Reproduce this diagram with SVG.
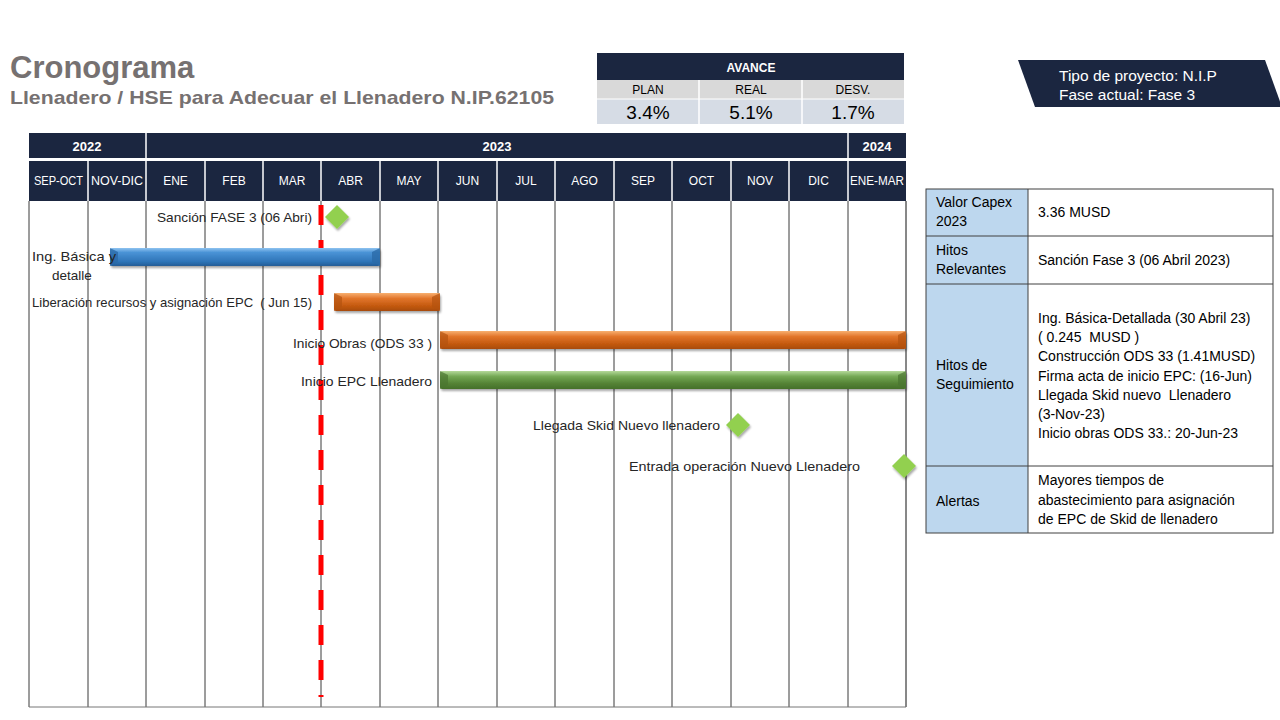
<svg xmlns="http://www.w3.org/2000/svg" width="1280" height="720" viewBox="0 0 1280 720">
  <style>
    .ttl { font-family: "Liberation Sans", Arial, sans-serif; font-weight: bold; fill: #767171; }
    .hdr { font-family: "Liberation Sans", Arial, sans-serif; fill: #ffffff; font-size: 12px; text-anchor: middle; }
    .yr { font-family: "Liberation Sans", Arial, sans-serif; fill: #ffffff; font-size: 13px; font-weight: bold; text-anchor: middle; }
    .lbl { font-family: "Liberation Sans", Arial, sans-serif; fill: #262626; font-size: 13.5px; }
    .cell { font-family: "Liberation Sans", Arial, sans-serif; fill: #000000; font-size: 14px; }
    .grid { stroke: #3a3a3a; stroke-width: 1; }
    .diamond { fill: #92D050; }
  </style>
  <defs>
    <linearGradient id="gBlue" x1="0" y1="0" x2="0" y2="1">
      <stop offset="0" stop-color="#8FC3F0"/>
      <stop offset="0.25" stop-color="#4A93D6"/>
      <stop offset="0.75" stop-color="#2E74B8"/>
      <stop offset="1" stop-color="#245D96"/>
    </linearGradient>
    <linearGradient id="gOrange" x1="0" y1="0" x2="0" y2="1">
      <stop offset="0" stop-color="#F8B070"/>
      <stop offset="0.3" stop-color="#E2762C"/>
      <stop offset="0.7" stop-color="#C55A11"/>
      <stop offset="1" stop-color="#A84B0E"/>
    </linearGradient>
    <linearGradient id="gGreen" x1="0" y1="0" x2="0" y2="1">
      <stop offset="0" stop-color="#B5D99A"/>
      <stop offset="0.3" stop-color="#74A855"/>
      <stop offset="0.7" stop-color="#548235"/>
      <stop offset="1" stop-color="#45702A"/>
    </linearGradient>
    <filter id="shadow" x="-30%" y="-30%" width="160%" height="160%">
      <feDropShadow dx="1" dy="2" stdDeviation="1.2" flood-color="#000" flood-opacity="0.35"/>
    </filter>
  </defs>

  <rect width="1280" height="720" fill="#ffffff"/>

  <!-- Title -->
  <g id="title">
    <text class="ttl" x="10" y="78" font-size="31">Cronograma</text>
    <text class="ttl" x="10" y="104" font-size="19" textLength="544" lengthAdjust="spacingAndGlyphs">Llenadero / HSE para Adecuar el Llenadero N.IP.62105</text>
  </g>

  <!-- Progress table -->
  <g id="avance">
    <rect x="597" y="53" width="307" height="27" fill="#1B2640"/>
    <text x="751" y="72" font-family="Liberation Sans, Arial, sans-serif" font-size="12" font-weight="bold" fill="#fff" text-anchor="middle">AVANCE</text>
    <rect x="597" y="80" width="307" height="19" fill="#D9D9D9"/>
    <rect x="597" y="99" width="307" height="25" fill="#D6DCE5"/>
    <line x1="699" y1="80" x2="699" y2="124" stroke="#fff" stroke-width="1.5"/>
    <line x1="802" y1="80" x2="802" y2="124" stroke="#fff" stroke-width="1.5"/>
    <line x1="597" y1="99" x2="904" y2="99" stroke="#fff" stroke-width="1"/>
    <g font-family="Liberation Sans, Arial, sans-serif" fill="#000" text-anchor="middle">
      <text x="648" y="94" font-size="12">PLAN</text>
      <text x="751" y="94" font-size="12">REAL</text>
      <text x="853" y="94" font-size="12">DESV.</text>
      <text x="648" y="119" font-size="19">3.4%</text>
      <text x="751" y="119" font-size="19">5.1%</text>
      <text x="853" y="119" font-size="19">1.7%</text>
    </g>
  </g>

  <!-- Project type banner -->
  <g id="tipo">
    <polygon points="1018,60 1265,60 1282,107 1035,107" fill="#1B2640"/>
    <text x="1059" y="81" font-family="Liberation Sans, Arial, sans-serif" font-size="15.5" fill="#fff">Tipo de proyecto: N.I.P</text>
    <text x="1059" y="100" font-family="Liberation Sans, Arial, sans-serif" font-size="15.5" fill="#fff">Fase actual: Fase 3</text>
  </g>

  <!-- Timeline header -->
  <g id="header">
    <rect x="29" y="133" width="877" height="25" fill="#1B2640"/>
    <rect x="29" y="161" width="877" height="40" fill="#1B2640"/>
    <g stroke="#ffffff" stroke-width="1.5">
      <line x1="146" y1="133" x2="146" y2="158"/>
      <line x1="848" y1="133" x2="848" y2="158"/>
      <line x1="88" y1="161" x2="88" y2="201"/>
      <line x1="146" y1="161" x2="146" y2="201"/>
      <line x1="205" y1="161" x2="205" y2="201"/>
      <line x1="263" y1="161" x2="263" y2="201"/>
      <line x1="321" y1="161" x2="321" y2="201"/>
      <line x1="380" y1="161" x2="380" y2="201"/>
      <line x1="438" y1="161" x2="438" y2="201"/>
      <line x1="497" y1="161" x2="497" y2="201"/>
      <line x1="555" y1="161" x2="555" y2="201"/>
      <line x1="614" y1="161" x2="614" y2="201"/>
      <line x1="672" y1="161" x2="672" y2="201"/>
      <line x1="731" y1="161" x2="731" y2="201"/>
      <line x1="789" y1="161" x2="789" y2="201"/>
      <line x1="848" y1="161" x2="848" y2="201"/>
    </g>
    <text class="yr" x="87" y="151">2022</text>
    <text class="yr" x="497" y="151">2023</text>
    <text class="yr" x="877" y="151">2024</text>
    <text class="hdr" x="58.5" y="185" textLength="49" lengthAdjust="spacingAndGlyphs">SEP-OCT</text>
    <text class="hdr" x="117" y="185" textLength="52" lengthAdjust="spacingAndGlyphs">NOV-DIC</text>
    <text class="hdr" x="175.5" y="185">ENE</text>
    <text class="hdr" x="234" y="185">FEB</text>
    <text class="hdr" x="292" y="185">MAR</text>
    <text class="hdr" x="350.5" y="185">ABR</text>
    <text class="hdr" x="409" y="185">MAY</text>
    <text class="hdr" x="467.5" y="185">JUN</text>
    <text class="hdr" x="526" y="185">JUL</text>
    <text class="hdr" x="584.5" y="185">AGO</text>
    <text class="hdr" x="643" y="185">SEP</text>
    <text class="hdr" x="701.5" y="185">OCT</text>
    <text class="hdr" x="760" y="185">NOV</text>
    <text class="hdr" x="818.5" y="185">DIC</text>
    <text class="hdr" x="877" y="185" textLength="54" lengthAdjust="spacingAndGlyphs">ENE-MAR</text>
  </g>

  <!-- Timeline body grid -->
  <g id="grid" class="grid">
    <line x1="29" y1="201" x2="29" y2="707"/>
    <line x1="88" y1="201" x2="88" y2="707"/>
    <line x1="146" y1="201" x2="146" y2="707"/>
    <line x1="205" y1="201" x2="205" y2="707"/>
    <line x1="263" y1="201" x2="263" y2="707"/>
    <line x1="321" y1="201" x2="321" y2="707"/>
    <line x1="380" y1="201" x2="380" y2="707"/>
    <line x1="438" y1="201" x2="438" y2="707"/>
    <line x1="497" y1="201" x2="497" y2="707"/>
    <line x1="555" y1="201" x2="555" y2="707"/>
    <line x1="614" y1="201" x2="614" y2="707"/>
    <line x1="672" y1="201" x2="672" y2="707"/>
    <line x1="731" y1="201" x2="731" y2="707"/>
    <line x1="789" y1="201" x2="789" y2="707"/>
    <line x1="848" y1="201" x2="848" y2="707"/>
    <line x1="906" y1="201" x2="906" y2="707" stroke="#111"/>
    <line x1="29" y1="707" x2="906" y2="707" stroke="#777"/>
  </g>

  <!-- Current date marker -->
  <g id="today">
    <line x1="321" y1="205" x2="321" y2="697" stroke="#FF0000" stroke-width="5" stroke-dasharray="20 15"/>
  </g>

  <!-- Task bars -->
  <g id="bar-ingenieria">
    <rect x="110" y="248" width="270" height="18" rx="2" fill="url(#gBlue)" filter="url(#shadow)"/>
    <polygon points="110,248 118,252 118,262 110,266" fill="#2A6AA8" opacity="0.8"/>
    <polygon points="380,248 372,252 372,262 380,266" fill="#2A6AA8" opacity="0.8"/>
    <text class="lbl" x="32" y="261" textLength="84" lengthAdjust="spacingAndGlyphs">Ing. Básica y</text>
    <text class="lbl" x="72" y="280" text-anchor="middle">detalle</text>
  </g>
  <g id="bar-liberacion">
    <rect x="334" y="293" width="106" height="18" rx="2" fill="url(#gOrange)" filter="url(#shadow)"/>
    <polygon points="334,293 342,297 342,307 334,311" fill="#B45210" opacity="0.7"/>
    <polygon points="440,293 432,297 432,307 440,311" fill="#B45210" opacity="0.7"/>
    <text class="lbl" x="32" y="307" textLength="280" lengthAdjust="spacingAndGlyphs" xml:space="preserve">Liberación recursos y asignación EPC  ( Jun 15)</text>
  </g>
  <g id="bar-obras">
    <rect x="440" y="331" width="466" height="18" rx="2" fill="url(#gOrange)" filter="url(#shadow)"/>
    <polygon points="440,331 448,335 448,345 440,349" fill="#B45210" opacity="0.7"/>
    <polygon points="906,331 898,335 898,345 906,349" fill="#B45210" opacity="0.7"/>
    <text class="lbl" x="293" y="348" textLength="139" lengthAdjust="spacingAndGlyphs">Inicio Obras (ODS 33 )</text>
  </g>
  <g id="bar-epc">
    <rect x="440" y="371" width="466" height="18" rx="2" fill="url(#gGreen)" filter="url(#shadow)"/>
    <polygon points="440,371 448,375 448,385 440,389" fill="#4A7530" opacity="0.7"/>
    <polygon points="906,371 898,375 898,385 906,389" fill="#4A7530" opacity="0.7"/>
    <text class="lbl" x="301" y="386" textLength="131" lengthAdjust="spacingAndGlyphs">Inicio EPC Llenadero</text>
  </g>

  <!-- Milestones -->
  <g id="hito-sancion">
    <text class="lbl" x="157" y="222" textLength="155" lengthAdjust="spacingAndGlyphs">Sanción FASE 3 (06 Abri)</text>
    <polygon class="diamond" points="337,205 349,217 337,229 325,217" filter="url(#shadow)"/>
  </g>
  <g id="hito-skid">
    <text class="lbl" x="533" y="430" textLength="187" lengthAdjust="spacingAndGlyphs">Llegada Skid Nuevo llenadero</text>
    <polygon class="diamond" points="738,413 750,425 738,437 726,425" filter="url(#shadow)"/>
  </g>
  <g id="hito-operacion">
    <text class="lbl" x="629" y="471" textLength="231" lengthAdjust="spacingAndGlyphs">Entrada operación Nuevo Llenadero</text>
    <polygon class="diamond" points="904,454 916,466 904,478 892,466" filter="url(#shadow)"/>
  </g>

  <!-- Summary table -->
  <g id="resumen">
    <rect x="926" y="189" width="102" height="344" fill="#BDD7EE"/>
    <g stroke="#404040" stroke-width="1" fill="none">
      <rect x="926" y="189" width="347" height="344"/>
      <line x1="1028" y1="189" x2="1028" y2="533"/>
      <line x1="926" y1="236" x2="1273" y2="236"/>
      <line x1="926" y1="284" x2="1273" y2="284"/>
      <line x1="926" y1="466" x2="1273" y2="466"/>
    </g>
    <text class="cell" x="936" y="207">Valor Capex</text>
    <text class="cell" x="936" y="226">2023</text>
    <text class="cell" x="1038" y="217">3.36 MUSD</text>
    <text class="cell" x="936" y="255">Hitos</text>
    <text class="cell" x="936" y="274">Relevantes</text>
    <text class="cell" x="1038" y="265">Sanción Fase 3 (06 Abril 2023)</text>
    <text class="cell" x="936" y="370">Hitos de</text>
    <text class="cell" x="936" y="389">Seguimiento</text>
    <text class="cell" x="1038" y="323">Ing. Básica-Detallada (30 Abril 23)</text>
    <text class="cell" x="1038" y="342" xml:space="preserve">( 0.245  MUSD )</text>
    <text class="cell" x="1038" y="361">Construcción ODS 33 (1.41MUSD)</text>
    <text class="cell" x="1038" y="381">Firma acta de inicio EPC: (16-Jun)</text>
    <text class="cell" x="1038" y="400" xml:space="preserve">Llegada Skid nuevo  Llenadero</text>
    <text class="cell" x="1038" y="419">(3-Nov-23)</text>
    <text class="cell" x="1038" y="438">Inicio obras ODS 33.: 20-Jun-23</text>
    <text class="cell" x="936" y="506">Alertas</text>
    <text class="cell" x="1038" y="485">Mayores tiempos de</text>
    <text class="cell" x="1038" y="505">abastecimiento para asignación</text>
    <text class="cell" x="1038" y="524">de EPC de Skid de llenadero</text>
  </g>
</svg>
